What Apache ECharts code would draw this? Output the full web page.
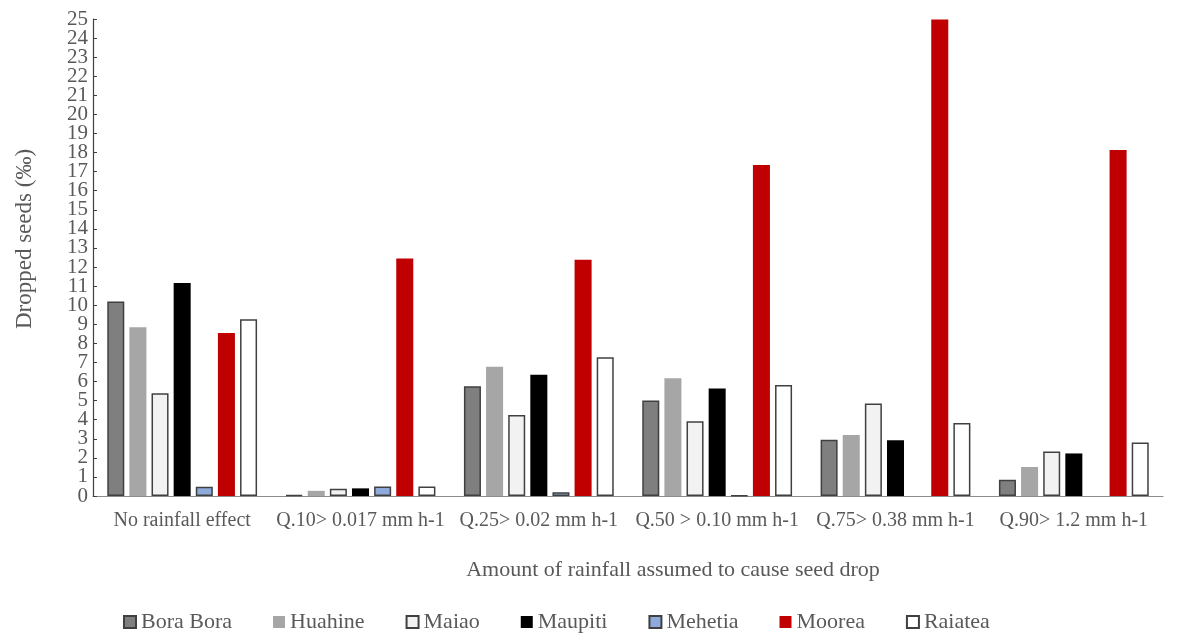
<!DOCTYPE html>
<html>
<head>
<meta charset="utf-8">
<script src="https://cdn.jsdelivr.net/npm/echarts@6/dist/echarts.min.js"></script>
<style>html,body{margin:0;padding:0;background:#fff}#c{width:1178px;height:634px}</style>
</head>
<body>
<div id="c"></div>
<script>
const categories = ["No rainfall effect", "Q.10> 0.017 mm h-1", "Q.25> 0.02 mm h-1", "Q.50 > 0.10 mm h-1", "Q.75> 0.38 mm h-1", "Q.90> 1.2 mm h-1"];
const yTicks = {min: 0, max: 25, interval: 1};
const boraBora = [10.2, 0.04, 5.75, 5.0, 2.95, 0.85];
const huahine  = [8.85, 0.27, 6.78, 6.17, 3.2, 1.52];
const maiao    = [5.38, 0.38, 4.25, 3.92, 4.85, 2.33];
const maupiti  = [11.17, 0.4, 6.35, 5.64, 2.92, 2.23];
const mehetia  = [0.48, 0.5, 0.2, 0.02, 0, 0];
const moorea   = [8.54, 12.45, 12.38, 17.35, 24.97, 18.14];
const raiatea  = [9.27, 0.5, 7.27, 5.82, 3.83, 2.8];

const seriesDefs = [
  {name: "Bora Bora", data: boraBora, color: "#7f7f7f", border: "#404040", bw: 1.5},
  {name: "Huahine", data: huahine, color: "#a6a6a6", border: "#a6a6a6", bw: 0},
  {name: "Maiao", data: maiao, color: "#f2f2f2", border: "#404040", bw: 1.5},
  {name: "Maupiti", data: maupiti, color: "#000000", border: "#000000", bw: 0},
  {name: "Mehetia", data: mehetia, color: "#8eaadb", border: "#404040", bw: 1.5},
  {name: "Moorea", data: moorea, color: "#c00000", border: "#c00000", bw: 0},
  {name: "Raiatea", data: raiatea, color: "#ffffff", border: "#404040", bw: 1.5}
];

const font = "'Liberation Serif', 'Times New Roman', serif";
const yLabelStyle = {fontFamily: font, fontSize: 21, color: '#595959', margin: 5};
const nearEnd = v => v === yTicks.min + yTicks.interval || v === yTicks.max - yTicks.interval;
const chart = echarts.init(document.getElementById('c'), null, {renderer: 'canvas'});
chart.setOption({
  animation: false,
  backgroundColor: '#ffffff',
  textStyle: {fontFamily: font},
  title: {
    text: "Amount of rainfall assumed to cause seed drop",
    left: 668, top: 554, textAlign: 'center',
    textStyle: {fontFamily: font, fontSize: 22, fontWeight: 'normal', color: '#595959'}
  },
  grid: {left: 93, right: 15, top: 19, bottom: 138, containLabel: false},
  legend: {
    top: 606, left: 118,
    icon: 'rect',
    itemWidth: 12, itemHeight: 12, itemGap: 41,
    textStyle: {fontFamily: font, fontSize: 22, color: '#595959'},
    data: seriesDefs.map(s => s.name)
  },
  xAxis: {
    type: 'category',
    data: categories,
    axisLine: {lineStyle: {color: '#8c8c8c', width: 1.2}},
    axisTick: {show: false},
    axisLabel: {fontFamily: font, fontSize: 20, color: '#595959', margin: 15, interval: 0}
  },
  yAxis: [{
    type: 'value', position: 'left',
    min: yTicks.min, max: yTicks.max, interval: yTicks.interval,
    name: "Dropped seeds (‰)",
    nameLocation: 'middle', nameGap: 57,
    nameTextStyle: {fontFamily: font, fontSize: 23, color: '#595959', padding: [0, 0, 0, 37]},
    axisLine: {show: true, lineStyle: {color: '#404040', width: 1.2}},
    axisTick: {show: true, inside: true, length: 4, lineStyle: {color: '#404040'}},
    splitLine: {show: false},
    axisLabel: Object.assign({showMinLabel: true, showMaxLabel: true}, yLabelStyle)
  }, {
    type: 'value', position: 'left', offset: 0,
    min: yTicks.min, max: yTicks.max, interval: yTicks.interval,
    axisLine: {show: false},
    axisTick: {show: true, inside: true, length: 4, lineStyle: {color: '#404040'}},
    splitLine: {show: false},
    axisLabel: Object.assign({showMinLabel: false, showMaxLabel: false,
      formatter: v => nearEnd(v) ? String(v) : ''}, yLabelStyle)
  }],
  series: seriesDefs.map(s => ({
    name: s.name,
    type: 'bar',
    yAxisIndex: 0,
    data: s.data.map(v => v === 0 ? {value: v, itemStyle: {borderWidth: 0}} : v),
    barGap: '30%',
    barCategoryGap: '16%',
    itemStyle: {color: s.color, borderColor: s.border, borderWidth: s.bw}
  }))
});
</script>
</body>
</html>
